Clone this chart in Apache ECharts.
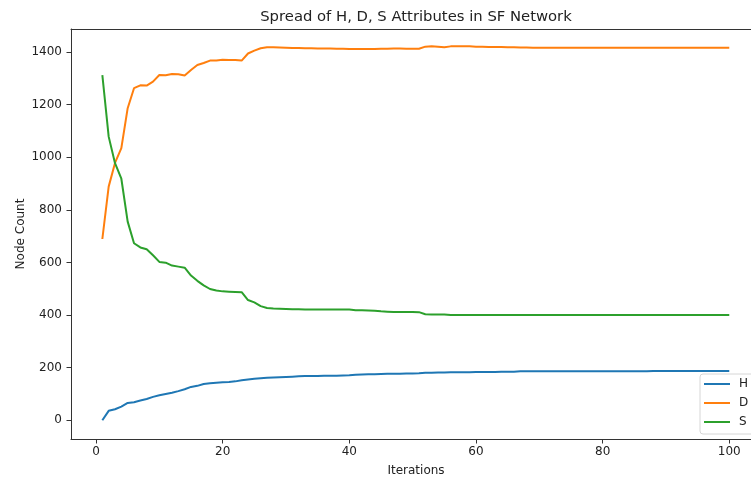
<!DOCTYPE html>
<html>
<head>
<meta charset="utf-8">
<script src="https://cdn.jsdelivr.net/npm/echarts@6/dist/echarts.min.js"></script>
<style>
  html, body { margin: 0; padding: 0; background: #fff; }
  #chart { width: 751px; height: 477px; }
</style>
</head>
<body>
<div id="chart"></div>
<script>
// values, one per iteration (1..100)
const hValues = [
  0, 36, 42, 52, 66, 69, 75, 81, 89, 95,
  100, 105, 111, 118, 127, 131, 138, 141, 143, 145,
  146, 148, 152, 155, 158, 160, 162, 163, 164, 165,
  166, 167, 168, 168, 168, 169, 169, 169, 170, 171,
  173, 174, 175, 175, 176, 177, 177, 177, 178, 178,
  179, 181, 181, 182, 182, 183, 183, 183, 183, 184,
  184, 184, 184, 185, 185, 185, 186, 186, 186, 186,
  186, 186, 186, 186, 186, 186, 186, 186, 186, 186,
  186, 186, 186, 186, 186, 186, 186, 187, 187, 187,
  187, 187, 187, 187, 187, 187, 187, 187, 187, 187
];
const dValues = [
  689, 888, 978, 1034, 1186, 1262, 1273, 1272, 1287, 1312,
  1311, 1316, 1315, 1310, 1331, 1350, 1358, 1367, 1367, 1370,
  1369, 1369, 1367, 1394, 1405, 1414, 1418, 1418, 1417, 1416,
  1415, 1415, 1414, 1414, 1413, 1413, 1413, 1412, 1412, 1411,
  1411, 1411, 1411, 1411, 1412, 1412, 1413, 1413, 1412, 1412,
  1412, 1420, 1421, 1420, 1418, 1421, 1421, 1421, 1421, 1420,
  1420, 1419, 1419, 1419, 1418, 1418, 1417, 1417, 1416, 1416,
  1416, 1416, 1416, 1416, 1416, 1416, 1416, 1416, 1416, 1416,
  1416, 1416, 1416, 1416, 1416, 1416, 1416, 1416, 1416, 1416,
  1416, 1416, 1416, 1416, 1416, 1416, 1416, 1416, 1416, 1416
];
const sValues = [
  1312, 1078, 977, 918, 755, 673, 657, 650, 627, 602,
  599, 588, 584, 580, 550, 530, 513, 499, 493, 490,
  489, 488, 487, 457, 448, 434, 427, 425, 424, 423,
  422, 422, 421, 421, 421, 421, 421, 421, 421, 421,
  418, 418, 417, 416, 414, 413, 412, 412, 412, 412,
  411, 403, 402, 402, 402, 400, 400, 400, 400, 400,
  400, 400, 400, 400, 400, 400, 400, 400, 400, 400,
  400, 400, 400, 400, 400, 400, 400, 400, 400, 400,
  400, 400, 400, 400, 400, 400, 400, 400, 400, 400,
  400, 400, 400, 400, 400, 400, 400, 400, 400, 400
];
const iterations = hValues.map((_, i) => i + 1);
const seriesNames = ['H', 'D', 'S'];
const xTicks = [0, 20, 40, 60, 80, 100];
const yTicks = [0, 200, 400, 600, 800, 1000, 1200, 1400];

const font = 'DejaVu Sans';
const colors = ['#1f77b4', '#ff7f0e', '#2ca02c'];
const axisColor = '#333';
const textColor = '#222';
const labelSize = 12;

const pairs = (vals) => vals.map((v, i) => [iterations[i], v]);

const chart = echarts.init(document.getElementById('chart'));
chart.setOption({
  animation: false,
  backgroundColor: '#fff',
  color: colors,
  title: {
    text: 'Spread of H, D, S Attributes in SF Network',
    left: 416,
    top: 10,
    padding: 0,
    textAlign: 'center',
    textStyle: { fontFamily: font, fontSize: 14.8, fontWeight: 'normal', color: textColor }
  },
  legend: {
    orient: 'vertical',
    left: 700,
    top: 374,
    padding: [4, 12, 6, 4],
    icon: 'path://M0,0H26V2H0Z',
    itemWidth: 26,
    itemHeight: 14,
    itemGap: 7,
    backgroundColor: 'rgba(255,255,255,0.8)',
    borderColor: '#d6d6d6',
    borderWidth: 1,
    borderRadius: 3,
    textStyle: { fontFamily: font, fontSize: labelSize, color: textColor, padding: [0, 0, 0, 4] },
    data: seriesNames
  },
  grid: { left: 71, right: 0, top: 29, bottom: 38, containLabel: false, outerBoundsMode: 'none' },
  xAxis: [{
    type: 'value',
    min: -3.95,
    max: 103.43,
    name: 'Iterations',
    nameLocation: 'middle',
    nameGap: 26,
    nameMoveOverlap: false,
    nameTextStyle: { fontFamily: font, fontSize: labelSize, color: textColor, padding: [0, 0, 0, 10] },
    splitLine: { show: false },
    axisLine: { onZero: false, lineStyle: { color: axisColor, width: 1 } },
    axisTick: { length: 4.5, customValues: xTicks, lineStyle: { color: axisColor } },
    axisLabel: { customValues: xTicks, margin: 7, fontFamily: font, fontSize: labelSize, color: textColor }
  }, {
    type: 'value',
    position: 'top',
    min: -3.95,
    max: 103.43,
    splitLine: { show: false },
    axisLine: { show: true, onZero: false, lineStyle: { color: axisColor, width: 1 } },
    axisTick: { show: false },
    axisLabel: { show: false }
  }],
  yAxis: {
    type: 'value',
    min: -71,
    max: 1487,
    name: 'Node Count',
    nameLocation: 'middle',
    nameRotate: 90,
    nameGap: 44,
    nameMoveOverlap: false,
    nameTextStyle: { fontFamily: font, fontSize: labelSize, color: textColor },
    splitLine: { show: false },
    axisLine: { show: true, onZero: false, lineStyle: { color: axisColor, width: 1 } },
    axisTick: { show: true, length: 4.5, customValues: yTicks, lineStyle: { color: axisColor } },
    axisLabel: {
      customValues: yTicks,
      margin: 9,
      formatter: (v) => String(v),
      fontFamily: font,
      fontSize: labelSize,
      color: textColor
    }
  },
  series: [hValues, dValues, sValues].map((vals, k) => ({
    name: seriesNames[k],
    type: 'line',
    xAxisIndex: 0,
    data: pairs(vals),
    symbol: 'none',
    lineStyle: { width: 2, color: colors[k] },
    itemStyle: { color: colors[k] },
    emphasis: { disabled: true }
  }))
});
</script>
</body>
</html>
